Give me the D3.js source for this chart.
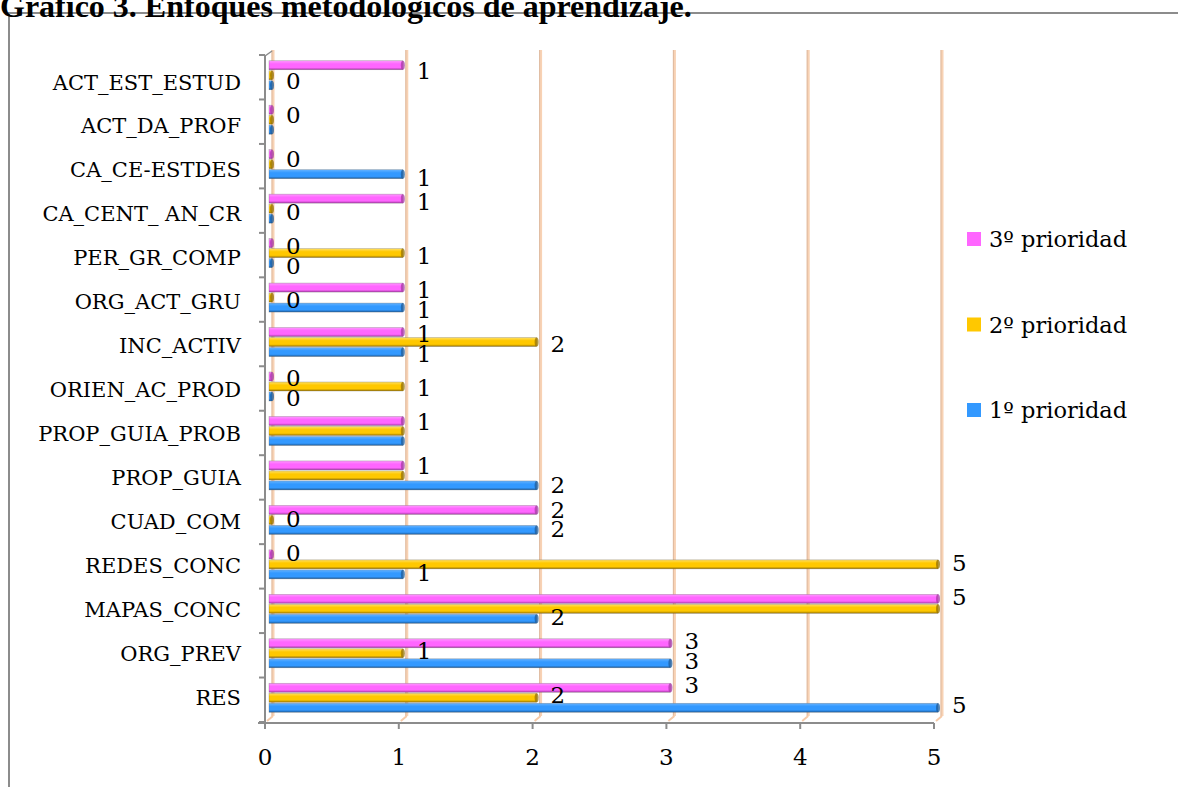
<!DOCTYPE html>
<html>
<head>
<meta charset="utf-8">
<script src="https://cdnjs.cloudflare.com/ajax/libs/d3/7.8.5/d3.min.js"></script>
<style>
  body { margin: 0; background: #fff; }
  svg { display: block; }
</style>
</head>
<body>
<svg width="1178" height="787"></svg>
<script>
// categorias (de abajo hacia arriba, como en la hoja)
var categories = ["RES", "ORG_PREV", "MAPAS_CONC", "REDES_CONC", "CUAD_COM", "PROP_GUIA",
    "PROP_GUIA_PROB", "ORIEN_AC_PROD", "INC_ACTIV", "ORG_ACT_GRU", "PER_GR_COMP",
    "CA_CENT_ AN_CR", "CA_CE-ESTDES", "ACT_DA_PROF", "ACT_EST_ESTUD"];

var prioridad1 = [5, 3, 2, 1, 2, 2, 1, 0, 1, 1, 0, 0, 1, 0, 0];
var prioridad2 = [2, 1, 5, 5, 0, 1, 1, 1, 2, 0, 1, 0, 0, 0, 0];
var prioridad3 = [3, 3, 5, 0, 2, 1, 1, 0, 1, 1, 0, 1, 0, 0, 1];

var seriesNames = ["1º prioridad", "2º prioridad", "3º prioridad"];
var xTicks = [0, 1, 2, 3, 4, 5];

var series = [
    {name: seriesNames[0], values: prioridad1, color: "#3399ff", light: "#66b3ff", dark: "#1c5c9c", off: 10},
    {name: seriesNames[1], values: prioridad2, color: "#ffc800", light: "#ffe066", dark: "#9a7400", off: 0},
    {name: seriesNames[2], values: prioridad3, color: "#ff66ff", light: "#ff99ff", dark: "#a83aa8", off: -10}
];

var svg = d3.select("svg");
var serif = "'DejaVu Serif', serif";

// escalas
var x = d3.scaleLinear().domain([0, 5]).range([265, 934]);
var y = d3.scaleBand().domain(categories).range([722, 55]);
var labelY = d3.scalePoint().domain(categories).range([697, 82]);
var valueY = d3.scaleLinear().domain([66.7, 688]).range([72, 685]);

var depth = 8; // desplazamiento 3D de la pared del fondo

// marco
svg.append("path")
    .attr("d", "M9,787 L9,13 L1178,13")
    .attr("fill", "none")
    .attr("stroke", "#8c8c8c")
    .attr("stroke-width", 2);

// titulo
svg.append("text")
    .attr("x", 0)
    .attr("y", 17)
    .attr("font-family", "'Liberation Serif', serif")
    .attr("font-weight", "bold")
    .attr("font-size", 32)
    .attr("fill", "#000")
    .text("Gráfico 3. Enfoques metodológicos de aprendizaje.");

// gradientes para las barras
var defs = svg.append("defs");
series.forEach(function (s, i) {
    var g = defs.append("linearGradient")
        .attr("id", "grad" + i)
        .attr("x1", 0).attr("y1", 0).attr("x2", 0).attr("y2", 1);
    g.append("stop").attr("offset", "0%").attr("stop-color", s.light);
    g.append("stop").attr("offset", "35%").attr("stop-color", s.color);
    g.append("stop").attr("offset", "75%").attr("stop-color", s.color);
    g.append("stop").attr("offset", "100%").attr("stop-color", s.dark);
});

// lineas de division (pared del fondo)
var grid = svg.append("g").classed("grid", true);
grid.selectAll("line.v")
    .data(xTicks)
    .enter()
    .append("line")
    .attr("x1", function (d) {
        return x(d) + depth
    })
    .attr("x2", function (d) {
        return x(d) + depth
    })
    .attr("y1", 50)
    .attr("y2", 716)
    .attr("stroke", "#f8d2b4")
    .attr("stroke-width", 3);
grid.selectAll("line.c")
    .data(xTicks)
    .enter()
    .append("line")
    .attr("x1", function (d) {
        return x(d) + depth - 1
    })
    .attr("x2", function (d) {
        return x(d) + depth - 1
    })
    .attr("y1", 50)
    .attr("y2", 716)
    .attr("stroke", "#d8b49a")
    .attr("stroke-width", 0.8);
grid.selectAll("path")
    .data(xTicks)
    .enter()
    .append("path")
    .attr("d", function (d) {
        return "M" + (x(d) + depth) + ",716 L" + (x(d) + 2) + ",721";
    })
    .attr("fill", "none")
    .attr("stroke", "#f6caa8")
    .attr("stroke-width", 2);

// barras
series.forEach(function (s, i) {
    var grp = svg.append("g").classed("serie", true);
    var data = s.values.map(function (v, j) {
        return {cat: categories[j], value: v};
    });
    grp.selectAll("rect")
        .data(data)
        .enter()
        .append("rect")
        .attr("x", x(0) + 4)
        .attr("y", function (d) {
            return y(d.cat) + y.bandwidth() / 2 - 2 + s.off - 4.5
        })
        .attr("width", function (d) {
            return Math.max(3, x(d.value) - x(0))
        })
        .attr("height", 9)
        .attr("fill", "url(#grad" + i + ")")
        .attr("stroke", "rgba(90,90,90,0.45)")
        .attr("stroke-width", 0.6);
    grp.selectAll("ellipse")
        .data(data)
        .enter()
        .append("ellipse")
        .attr("cx", function (d) {
            return x(0) + 4 + Math.max(3, x(d.value) - x(0))
        })
        .attr("cy", function (d) {
            return y(d.cat) + y.bandwidth() / 2 - 2 + s.off
        })
        .attr("rx", 2)
        .attr("ry", 4.5)
        .attr("fill", s.dark)
        .attr("opacity", 0.75);
});

// ejes
var axisColor = "#8c8c8c";
svg.append("line")
    .attr("x1", 258).attr("x2", x(5))
    .attr("y1", 723).attr("y2", 723)
    .attr("stroke", axisColor).attr("stroke-width", 2);
svg.selectAll("line.xt")
    .data(xTicks)
    .enter()
    .append("line")
    .attr("x1", function (d) {
        return x(d)
    })
    .attr("x2", function (d) {
        return x(d)
    })
    .attr("y1", 723)
    .attr("y2", 729)
    .attr("stroke", axisColor).attr("stroke-width", 2);
svg.selectAll("text.xt")
    .data(xTicks)
    .enter()
    .append("text")
    .attr("x", function (d) {
        return x(d)
    })
    .attr("y", 757)
    .attr("dy", ".35em")
    .attr("text-anchor", "middle")
    .attr("font-family", serif)
    .attr("font-size", 23)
    .text(function (d) {
        return d;
    });

svg.append("line")
    .attr("x1", 265).attr("x2", 265)
    .attr("y1", 55).attr("y2", 723)
    .attr("stroke", axisColor).attr("stroke-width", 2);
svg.append("path")
    .attr("d", "M265,56 L272,51")
    .attr("stroke", axisColor).attr("stroke-width", 1.5).attr("fill", "none");
var yTicks = categories.map(function (c) {
    return y(c);
}).concat([y(categories[0]) + y.bandwidth()]);
svg.selectAll("line.yt")
    .data(yTicks)
    .enter()
    .append("line")
    .attr("x1", 259).attr("x2", 265)
    .attr("y1", function (d) {
        return d
    })
    .attr("y2", function (d) {
        return d
    })
    .attr("stroke", axisColor).attr("stroke-width", 2);
svg.selectAll("text.cat")
    .data(categories)
    .enter()
    .append("text")
    .attr("x", 241)
    .attr("y", function (d) {
        return labelY(d)
    })
    .attr("dy", ".36em")
    .attr("text-anchor", "end")
    .attr("font-family", serif)
    .attr("font-size", 21)
    .text(function (d) {
        return d;
    });

// etiquetas de datos (si la serie de arriba tiene el mismo valor, se tapan)
series.forEach(function (s, i) {
    var upper = series[i + 1];
    var data = s.values.map(function (v, j) {
        return {cat: categories[j], value: v, hide: upper && upper.values[j] == v};
    }).filter(function (d) {
        return !d.hide;
    });
    svg.append("g").selectAll("text")
        .data(data)
        .enter()
        .append("text")
        .attr("x", function (d) {
            return x(0) + 4 + Math.max(3, x(d.value) - x(0)) + 14
        })
        .attr("y", function (d) {
            return valueY(y(d.cat) + y.bandwidth() / 2 - 2 + s.off)
        })
        .attr("dy", ".36em")
        .attr("font-family", serif)
        .attr("font-size", 23)
        .text(function (d) {
            return d.value;
        });
});

// leyenda
var legend = svg.append("g").selectAll("g")
    .data(series.slice().reverse())
    .enter()
    .append("g")
    .attr("transform", function (d, i) {
        return "translate(967," + (232 + i * 85.5) + ")";
    });
legend.append("rect")
    .attr("width", 14).attr("height", 14)
    .attr("fill", function (d) {
        return d.color
    });
legend.append("text")
    .attr("x", 22)
    .attr("y", 7)
    .attr("dy", ".36em")
    .attr("font-family", serif)
    .attr("font-size", 22.5)
    .text(function (d) {
        return d.name;
    });
</script>
</body>
</html>
